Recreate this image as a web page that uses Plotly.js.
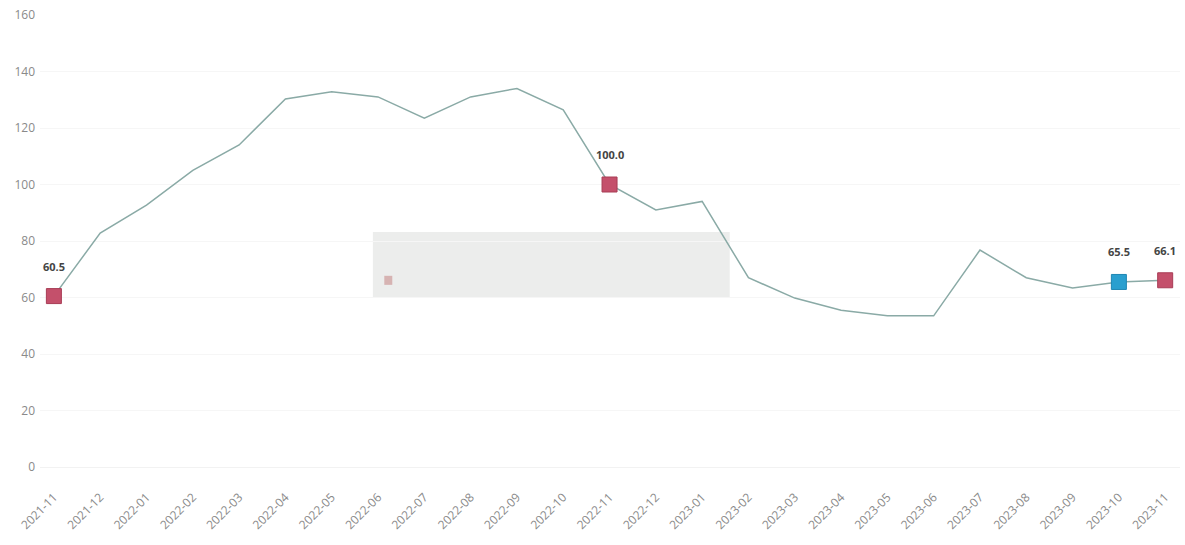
<!DOCTYPE html>
<html>
<head>
<meta charset="utf-8">
<script src="https://cdn.plot.ly/plotly-3.0.1.min.js"></script>
<style>html,body{margin:0;padding:0;background:#fff;}#chart{width:1185px;height:545px;}</style>
</head>
<body>
<div id="chart"></div>
<script>
const months = ["2021-11","2021-12","2022-01","2022-02","2022-03","2022-04","2022-05","2022-06","2022-07","2022-08","2022-09","2022-10","2022-11","2022-12","2023-01","2023-02","2023-03","2023-04","2023-05","2023-06","2023-07","2023-08","2023-09","2023-10","2023-11"];
const values = [60.5,82.8,92.7,105,114,130.3,132.8,131,123.5,131,134,126.4,100.0,91,94,67,59.8,55.5,53.5,53.5,76.8,67,63.4,65.5,66.1];
const redMonths = ["2021-11","2022-11","2023-11"];
const redValues = [60.5,100.0,66.1];
const blueMonths = ["2023-10"];
const blueValues = [65.5];
const labelMonths = ["2021-11","2022-11","2023-10","2023-11"];
const labelValues = [60.5,100.0,65.5,66.1];
const labelTexts = ["60.5","100.0","65.5","66.1"];
const yTicks = [0,20,40,60,80,100,120,140,160];

const traces = [
  {x: months, y: values, type: 'scatter', mode: 'lines', line: {color: '#8aaaa6', width: 1.5}, hoverinfo: 'x+y', showlegend: false},
  {x: redMonths, y: redValues, type: 'scatter', mode: 'markers', marker: {symbol: 'square', size: 15, color: '#c4506b', line: {color: '#a83c55', width: 1}}, showlegend: false},
  {x: blueMonths, y: blueValues, type: 'scatter', mode: 'markers', marker: {symbol: 'square', size: 15, color: '#2a9fcf', line: {color: '#1f86b3', width: 1}}, showlegend: false}
];

const annotations = labelMonths.map((m, i) => ({
  x: m, y: labelValues[i], xref: 'x', yref: 'y', text: '<b>' + labelTexts[i] + '</b>',
  showarrow: false, yshift: 30, font: {family: 'Open Sans, sans-serif', size: 11, color: '#444'}
}));

const layout = {
  width: 1185, height: 545,
  margin: {l: 40, r: 5, t: 15, b: 78},
  paper_bgcolor: '#fff', plot_bgcolor: '#fff',
  font: {family: 'Open Sans, sans-serif', size: 12, color: '#888'},
  xaxis: {type: 'category', categoryorder: 'array', categoryarray: months, range: [-0.3, 24.32],
          tickangle: -45, showgrid: false, zeroline: false, showline: false, ticks: '',
          ticklabelstandoff: 20,
          tickfont: {family: 'Open Sans, sans-serif', size: 12, color: '#8a8a8a'}},
  yaxis: {range: [0, 160], tickvals: yTicks, showgrid: true, gridcolor: '#f6f6f6', zeroline: true, zerolinecolor: '#f2f2f2',
          showline: false, ticks: '', ticklabelstandoff: 4,
          tickfont: {family: 'Open Sans, sans-serif', size: 12, color: '#8a8a8a'}},
  shapes: [
    {type: 'rect', xref: 'paper', yref: 'paper', x0: 0.292, x1: 0.605, y0: 0.374, y1: 0.52,
     fillcolor: 'rgba(226,228,226,0.65)', line: {width: 0}, layer: 'below'},
    {type: 'rect', xref: 'paper', yref: 'paper', x0: 0.302, x1: 0.309, y0: 0.403, y1: 0.423,
     fillcolor: 'rgba(200,140,140,0.6)', line: {width: 0}, layer: 'below'}
  ],
  annotations: annotations,
  showlegend: false
};

Plotly.newPlot('chart', traces, layout, {displayModeBar: false, staticPlot: true});
</script>
</body>
</html>
